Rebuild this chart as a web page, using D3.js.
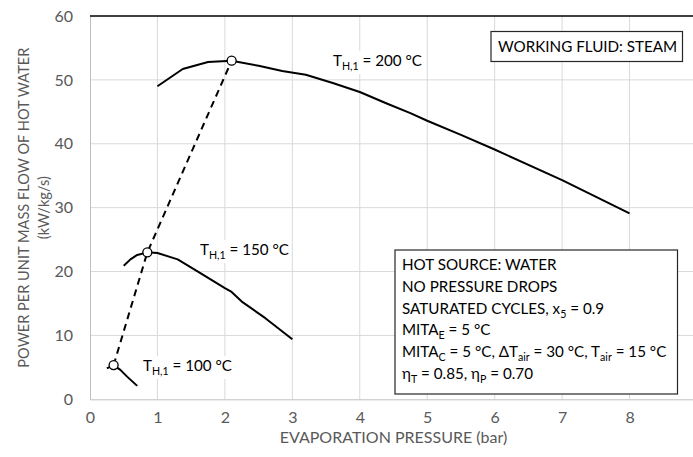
<!DOCTYPE html>
<html>
<head>
<meta charset="utf-8">
<script src="https://cdn.jsdelivr.net/npm/d3@7"></script>
<style>
  body { margin: 0; background: #fff; }
  svg { font-family: Lato, "Open Sans", sans-serif; }
</style>
</head>
<body>
<div id="chart"></div>
<script>
// data: [evaporation pressure (bar), power (kW/kg/s)]
var curve200 = [[1.0, 49.0], [1.375, 51.7], [1.75, 52.8], [2.1, 53.0], [2.5, 52.2], [2.85, 51.4],
  [3.2, 50.8], [3.6, 49.5], [4.0, 48.1], [4.4, 46.3], [4.75, 44.8], [5.0, 43.6], [5.5, 41.4],
  [6.0, 39.1], [7.0, 34.3], [8.0, 29.1]];
var curve150 = [[0.5, 20.9], [0.6, 21.9], [0.7, 22.6], [0.85, 23.0], [1.0, 22.9], [1.3, 21.9], [1.6, 20.0],
  [2.0, 17.4], [2.1, 16.8], [2.25, 15.3], [2.6, 12.7], [3.0, 9.4]];
var curve100 = [[0.25, 4.85], [0.35, 5.35], [0.45, 4.6], [0.55, 3.55], [0.7, 2.1]];
// optimum points joined by the dashed line
var optimum = [[0.35, 5.35], [0.85, 23.0], [2.1, 53.0]];

var xTicks = [0, 1, 2, 3, 4, 5, 6, 7, 8, 9];
var yTicks = [0, 10, 20, 30, 40, 50, 60];

var svgWidth = 693;
var svgHeight = 457;

var svg = d3.select("#chart")
  .append("svg")
  .attr("width", svgWidth)
  .attr("height", svgHeight);

var x = d3.scaleLinear().domain([0, 9]).range([90, 697]);
var y = d3.scaleLinear().domain([0, 60]).range([399.3, 16]);

// gridlines
svg.append("g")
  .selectAll("line")
  .data(xTicks.slice(1))
  .enter()
  .append("line")
  .attr("x1", d => x(d)).attr("x2", d => x(d))
  .attr("y1", y(0)).attr("y2", y(60))
  .attr("stroke", "#d9d9d9")
  .attr("stroke-width", 1);

svg.append("g")
  .selectAll("line")
  .data(yTicks.slice(1, -1))
  .enter()
  .append("line")
  .attr("x1", x(0)).attr("x2", x(9))
  .attr("y1", d => y(d)).attr("y2", d => y(d))
  .attr("stroke", "#d9d9d9")
  .attr("stroke-width", 1);

// axes (no tick marks, just labels)
var bottomAxis = d3.axisBottom(x).tickValues(xTicks).tickSize(0).tickPadding(12);
var leftAxis = d3.axisLeft(y).tickValues(yTicks).tickSize(0).tickPadding(17);

var xAxis = svg.append("g")
  .attr("transform", `translate(0, ${y(0)})`)
  .call(bottomAxis);
var yAxis = svg.append("g")
  .attr("transform", `translate(${x(0)}, 0)`)
  .call(leftAxis);

[xAxis, yAxis].forEach(function(ax) {
  ax.select(".domain").attr("stroke", "#bfbfbf").attr("stroke-width", 1);
  ax.selectAll("text")
    .attr("font-family", "Lato, sans-serif")
    .attr("font-size", "16px")
    .attr("fill", "#595959");
});

// top border of the plot
svg.append("line")
  .attr("x1", x(0)).attr("x2", x(9))
  .attr("y1", y(60)).attr("y2", y(60))
  .attr("stroke", "#000")
  .attr("stroke-width", 1.5);

// axis titles
svg.append("text")
  .attr("x", (x(0) + x(9)) / 2)
  .attr("y", 443)
  .attr("text-anchor", "middle")
  .attr("font-size", "16px")
  .attr("fill", "#595959")
  .text("EVAPORATION PRESSURE (bar)");

var yTitle = svg.append("text")
  .attr("transform", `translate(0, ${(y(0) + y(60)) / 2}) rotate(-90)`)
  .attr("text-anchor", "middle")
  .attr("font-size", "14.6px")
  .attr("fill", "#595959");
yTitle.append("tspan").attr("x", 0).attr("y", 29).text("POWER PER UNIT MASS FLOW OF HOT WATER");
yTitle.append("tspan").attr("x", 0).attr("y", 49).text("(kW/kg/s)");

// curves
var line = d3.line()
  .x(d => x(d[0]))
  .y(d => y(d[1]));

[curve200, curve150, curve100].forEach(function(c) {
  svg.append("path")
    .datum(c)
    .attr("d", line)
    .attr("fill", "none")
    .attr("stroke", "#000")
    .attr("stroke-width", 2)
    .attr("stroke-linejoin", "round");
});

svg.append("path")
  .datum(optimum)
  .attr("d", line)
  .attr("fill", "none")
  .attr("stroke", "#000")
  .attr("stroke-width", 2)
  .attr("stroke-dasharray", "7,5");

svg.selectAll(".opt")
  .data(optimum)
  .enter()
  .append("circle")
  .attr("class", "opt")
  .attr("cx", d => x(d[0]))
  .attr("cy", d => y(d[1]))
  .attr("r", 4.5)
  .attr("fill", "#fff")
  .attr("stroke", "#000")
  .attr("stroke-width", 1.3);

// helper: text with subscript pieces; parts = [[text, isSub], ...]
function richText(g, px, py, parts, size) {
  var t = g.append("text")
    .attr("x", px)
    .attr("y", py)
    .attr("font-size", size + "px")
    .attr("fill", "#000");
  var prevSub = false;
  parts.forEach(function(p) {
    var s = t.append("tspan").text(p[0]);
    if (p[1]) {
      s.attr("font-size", (size * 0.7) + "px").attr("dy", 4);
    } else if (prevSub) {
      s.attr("dy", -4);
    }
    prevSub = p[1];
  });
  return t;
}

var annSize = 15.2;

// temperature labels with white background
var tLabels = [
  { x: 333, y: 66, txt: "200" },
  { x: 200, y: 255, txt: "150" },
  { x: 143, y: 371, txt: "100" }
];
tLabels.forEach(function(l) {
  var g = svg.append("g");
  var bg = g.append("rect").attr("fill", "#fff");
  var t = richText(g, l.x, l.y, [["T", false], ["H,1", true], [" = " + l.txt + " °C", false]], annSize);
  var bb = t.node().getBBox();
  bg.attr("x", bb.x - 2).attr("y", bb.y).attr("width", bb.width + 4).attr("height", bb.height + 2);
});

// "WORKING FLUID" box
svg.append("rect")
  .attr("x", 491).attr("y", 31.5)
  .attr("width", 191.5).attr("height", 30)
  .attr("fill", "#fff")
  .attr("stroke", "#262626")
  .attr("stroke-width", 1.2);
richText(svg, 498, 52, [["WORKING FLUID: STEAM", false]], annSize);

// conditions box
svg.append("rect")
  .attr("x", 395).attr("y", 250)
  .attr("width", 282.5).attr("height", 144)
  .attr("fill", "#fff")
  .attr("stroke", "#262626")
  .attr("stroke-width", 1.2);

var boxLines = [
  [["HOT SOURCE: WATER", false]],
  [["NO PRESSURE DROPS", false]],
  [["SATURATED CYCLES, x", false], ["5", true], [" = 0.9", false]],
  [["MITA", false], ["E", true], [" = 5 °C", false]],
  [["MITA", false], ["C", true], [" = 5 °C, ΔT", false], ["air", true], [" = 30 °C, T", false], ["air", true], [" = 15 °C", false]],
  [["η", false], ["T", true], [" = 0.85, η", false], ["P", true], [" = 0.70", false]]
];
boxLines.forEach(function(parts, i) {
  richText(svg, 402, 270 + i * 21.8, parts, annSize);
});
</script>
</body>
</html>
